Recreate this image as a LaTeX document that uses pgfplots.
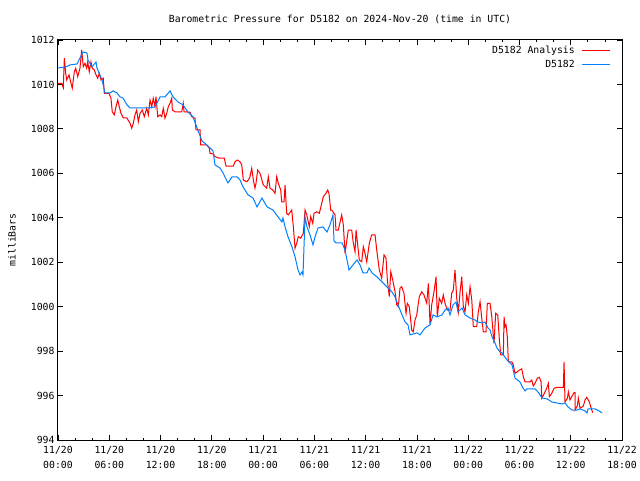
\documentclass[border=0pt]{standalone}
\usepackage{fontspec}
\setmainfont{DejaVu Sans Mono}
\usepackage{pgfplots}
\pgfplotsset{compat=1.18}
\definecolor{gred}{RGB}{255,0,0}
\definecolor{gblue}{RGB}{0,128,255}
\pgfplotsset{
  gredstyle/.style={gred, line width=1pt, legend image code/.code={\draw[gred, line width=1pt] (0pt,0pt) -- (28pt,0pt);}},
  gbluestyle/.style={gblue, line width=1pt, legend image code/.code={\draw[gblue, line width=1pt] (0pt,0pt) -- (28pt,0pt);}},
}
\begin{document}
\begin{tikzpicture}[x=1pt,y=1pt]
\useasboundingbox (0,0) rectangle (640,480);
\begin{axis}[
  at={(58pt,40pt)}, anchor=south west,
  scale only axis, width=564pt, height=400pt,
  xmin=0, xmax=66, ymin=994, ymax=1012,
  xtick={0,6,...,66},
  minor xtick={2,4,8,10,14,16,20,22,26,28,32,34,38,40,44,46,50,52,56,58,62,64},
  xticklabels={{11/20\\00:00},{11/20\\06:00},{11/20\\12:00},{11/20\\18:00},{11/21\\00:00},{11/21\\06:00},{11/21\\12:00},{11/21\\18:00},{11/22\\00:00},{11/22\\06:00},{11/22\\12:00},{11/22\\18:00}},
  ytick={994,996,...,1012},
  /pgf/number format/1000 sep={},
  /pgf/number format/assume math mode=true,
  tick align=inside,
  major tick length=5pt, minor tick length=2.5pt,
  every tick/.style={black, line width=0.8pt},
  axis line style={black, line width=1pt},
  xticklabel style={align=center, font=\fontsize{9.8}{15}\selectfont, yshift=-3pt},
  yticklabel style={font=\fontsize{9.8}{12}\selectfont},
  ylabel={milliBars},
  ylabel style={font=\fontsize{9.8}{12}\selectfont, at={(axis description cs:-0.0816,0.5)}, anchor=center, rotate=0},
  title={Barometric Pressure for D5182 on 2024-Nov-20 (time in UTC)},
  title style={font=\fontsize{9.8}{12}\selectfont, at={(0.5,1)}, anchor=center, yshift=15pt},
  legend plot pos=right,
  legend cell align=right,
  legend style={at={(1,1)}, anchor=north east, draw=none, fill=none, font=\fontsize{9.8}{12}\selectfont, xshift=-8pt, yshift=-2pt, row sep=1pt, /tikz/every odd column/.append style={column sep=5pt}},
]
\addplot[gredstyle] coordinates {
(0,1010.05)(0.43,1010.05)(0.62,1009.85)(0.74,1011.18)(0.90,1010.50)(1.02,1010.20)(1.29,1010.43)(1.52,1010.05)(1.67,1009.83)(1.91,1010.57)(2.07,1010.73)(2.31,1010.35)(2.46,1010.57)(2.57,1010.73)(2.77,1011.55)(2.96,1010.80)(3.16,1010.95)(3.36,1010.73)(3.48,1011.02)(3.66,1010.57)(3.86,1011.02)(4.01,1010.73)(4.25,1010.65)(4.45,1010.43)(4.65,1010.28)(4.83,1010.50)(5.03,1010.20)(5.30,1010.28)(5.42,1009.60)(5.97,1009.60)(6.20,1009.38)(6.35,1008.77)(6.59,1008.63)(6.79,1009.00)(6.99,1009.30)(7.17,1009.00)(7.37,1008.70)(7.64,1008.50)(8.04,1008.50)(8.43,1008.25)(8.63,1008.03)(8.81,1008.25)(9.01,1008.63)(9.21,1008.85)(9.40,1008.32)(9.60,1008.70)(9.87,1008.85)(10.10,1008.55)(10.38,1008.93)(10.57,1008.63)(10.77,1009.30)(10.97,1009.00)(11.15,1009.38)(11.35,1009.00)(11.47,1009.45)(11.67,1008.55)(11.94,1008.63)(12.14,1008.55)(12.32,1008.93)(12.52,1008.48)(12.72,1008.70)(12.91,1009.00)(13.11,1009.15)(13.31,1009.38)(13.38,1008.85)(13.69,1008.77)(14.28,1008.77)(14.48,1008.77)(14.66,1009.15)(14.75,1008.77)(15.45,1008.75)(15.65,1008.55)(16.03,1008.48)(16.15,1007.95)(16.62,1007.95)(16.70,1007.28)(17.40,1007.28)(17.71,1007.13)(17.79,1006.90)(18.17,1006.87)(18.37,1006.75)(18.88,1006.68)(19.46,1006.68)(19.66,1006.33)(20.52,1006.33)(20.71,1006.52)(20.98,1006.60)(21.30,1006.52)(21.50,1006.38)(21.69,1005.70)(22.08,1005.62)(22.27,1005.70)(22.47,1005.85)(22.67,1006.23)(22.86,1005.70)(23.05,1005.33)(23.17,1005.55)(23.37,1006.15)(23.64,1006.00)(24.03,1005.48)(24.42,1005.33)(24.61,1005.85)(24.81,1005.33)(25.13,1005.25)(25.40,1005.10)(25.59,1005.85)(25.78,1005.55)(26.06,1005.25)(26.18,1004.72)(26.45,1004.72)(26.57,1005.48)(26.76,1004.20)(26.95,1004.13)(27.35,1004.35)(27.54,1003.60)(27.74,1002.63)(27.93,1002.85)(28.12,1003.15)(28.40,1003.08)(28.71,1003.30)(28.91,1004.35)(29.11,1004.13)(29.41,1003.60)(29.57,1004.05)(29.81,1003.75)(29.96,1004.20)(30.28,1004.27)(30.58,1004.20)(30.86,1004.65)(31.05,1004.95)(31.36,1005.10)(31.56,1005.25)(31.71,1005.10)(31.91,1004.35)(32.03,1004.35)(32.42,1004.13)(32.53,1003.45)(32.80,1003.45)(33.20,1004.13)(33.39,1003.68)(33.59,1002.40)(33.97,1003.45)(34.37,1003.45)(34.56,1002.85)(34.76,1002.47)(34.88,1003.45)(35.03,1002.92)(35.26,1002.10)(35.54,1002.02)(35.73,1002.70)(35.93,1002.40)(36.13,1002.02)(36.43,1002.85)(36.71,1003.23)(37.10,1003.23)(37.30,1002.55)(37.60,1001.65)(37.88,1001.28)(38.15,1002.33)(38.39,1002.18)(38.54,1001.20)(38.77,1000.45)(38.94,1001.57)(39.17,1001.20)(39.44,1000.67)(39.64,1000.08)(39.83,1000.00)(40.02,1000.83)(40.22,1000.90)(40.49,1000.60)(40.73,999.70)(40.88,1000.15)(41.11,1000.00)(41.39,998.95)(41.58,998.87)(41.78,999.40)(41.98,999.63)(42.28,1000.45)(42.56,1000.67)(42.83,1000.53)(43.15,1000.15)(43.34,1001.05)(43.54,999.18)(43.73,1000.08)(44.00,1000.67)(44.24,1001.35)(44.39,999.55)(44.62,1000.38)(44.90,1000.15)(45.09,1000.53)(45.29,1000.15)(45.56,999.85)(45.88,999.85)(46.07,1000.60)(46.26,1000.75)(46.46,1001.65)(46.66,1000.38)(46.85,999.77)(47.05,1000.67)(47.25,1001.35)(47.43,1000.00)(47.63,999.77)(47.83,1000.53)(48.02,1000.15)(48.22,1000.90)(48.42,1000.30)(48.60,999.10)(49.00,999.10)(49.19,999.77)(49.39,1000.22)(49.59,999.48)(49.77,998.87)(50.09,998.87)(50.24,1000.15)(50.56,1000.15)(50.76,999.55)(51.02,998.35)(51.22,999.70)(51.46,999.63)(51.65,998.50)(51.81,997.83)(52.11,997.83)(52.20,999.55)(52.31,999.10)(52.43,999.18)(52.58,998.65)(52.70,997.52)(53.10,997.52)(53.28,997.38)(53.48,997.00)(53.75,997.07)(53.99,997.15)(54.27,997.20)(54.45,996.85)(54.65,996.62)(55.24,996.62)(55.44,996.70)(55.62,996.43)(55.82,996.55)(56.09,996.78)(56.33,996.82)(56.53,996.62)(56.61,995.88)(56.91,996.10)(57.19,996.33)(57.38,996.55)(57.50,995.95)(57.78,996.10)(58.05,996.33)(58.36,996.37)(59.14,996.37)(59.22,997.52)(59.33,995.72)(59.61,995.88)(59.72,996.17)(59.92,995.80)(60.12,995.95)(60.39,996.13)(60.50,996.13)(60.51,995.35)(60.77,995.53)(60.89,995.88)(61.09,995.43)(61.48,995.53)(61.67,995.80)(61.87,995.92)(62.17,995.72)(62.46,995.35)(62.58,995.23)
};
\addlegendentry{D5182 Analysis}
\addplot[gbluestyle] coordinates {
(0,1010.74)(0.94,1010.79)(1.40,1010.88)(2.22,1010.92)(2.57,1011.19)(2.93,1011.46)(3.39,1011.42)(3.51,1011.10)(3.98,1010.79)(4.45,1011.01)(4.56,1010.74)(5.15,1010.20)(5.50,1009.62)(6.09,1009.62)(6.44,1009.71)(6.90,1009.62)(7.26,1009.44)(7.61,1009.39)(8.07,1009.08)(8.43,1008.94)(9.36,1008.94)(10.53,1008.94)(11.35,1008.99)(11.94,1009.44)(12.52,1009.44)(13.11,1009.71)(13.46,1009.44)(14.04,1009.21)(14.63,1009.08)(15.21,1008.76)(15.80,1008.54)(16.27,1008.04)(16.85,1007.46)(17.55,1007.23)(18.14,1007.01)(18.37,1006.38)(18.96,1006.24)(19.31,1006.02)(19.89,1005.57)(20.36,1005.84)(20.95,1005.84)(21.30,1005.70)(21.65,1005.39)(22.24,1005.03)(22.82,1004.89)(23.29,1004.49)(23.87,1004.89)(24.46,1004.49)(25.16,1004.35)(25.75,1004.04)(26.21,1003.81)(26.33,1003.99)(26.57,1003.59)(26.92,1003.14)(27.38,1002.69)(27.74,1002.24)(28.09,1001.65)(28.32,1001.43)(28.55,1001.56)(28.67,1001.43)(28.91,1004.04)(29.14,1003.59)(29.49,1003.23)(29.84,1002.78)(30.08,1003.14)(30.43,1003.54)(31.01,1003.59)(31.48,1003.36)(31.83,1003.68)(32.18,1004.13)(32.30,1002.96)(32.53,1002.87)(33.24,1002.87)(33.59,1002.55)(33.82,1002.10)(34.06,1001.65)(34.52,1001.88)(34.99,1002.10)(35.34,1001.88)(35.69,1001.52)(36.16,1001.52)(36.40,1001.74)(36.75,1001.52)(37.33,1001.34)(37.92,1001.11)(38.50,1000.89)(39.09,1000.66)(39.44,1000.44)(39.79,1000.08)(40.26,999.63)(40.61,999.31)(40.96,999.18)(41.19,998.73)(42.01,998.82)(42.36,998.73)(42.95,999.04)(43.53,999.18)(43.89,999.63)(44.35,999.54)(44.94,999.63)(45.29,999.85)(45.64,999.94)(45.87,999.63)(46.23,1000.08)(46.58,1000.21)(46.81,999.76)(47.28,999.94)(47.63,999.63)(48.22,999.49)(48.80,999.40)(49.15,999.31)(49.62,999.27)(49.97,999.31)(50.32,999.04)(50.56,998.95)(50.79,998.64)(51.14,998.37)(51.37,998.14)(51.73,997.96)(51.96,997.92)(52.55,997.60)(53.13,997.38)(53.48,996.79)(54.07,996.61)(54.42,996.34)(54.65,996.21)(54.89,996.30)(55.82,996.30)(56.17,996.16)(56.64,995.89)(57.23,995.85)(57.81,995.71)(58.98,995.62)(59.33,995.67)(59.68,995.49)(60.15,995.35)(60.74,995.35)(61.09,995.40)(61.67,995.31)(61.91,995.22)(62.03,995.40)(62.84,995.40)(63.31,995.31)(63.66,995.22)
};
\addlegendentry{D5182}
\end{axis}
\end{tikzpicture}
\end{document}
